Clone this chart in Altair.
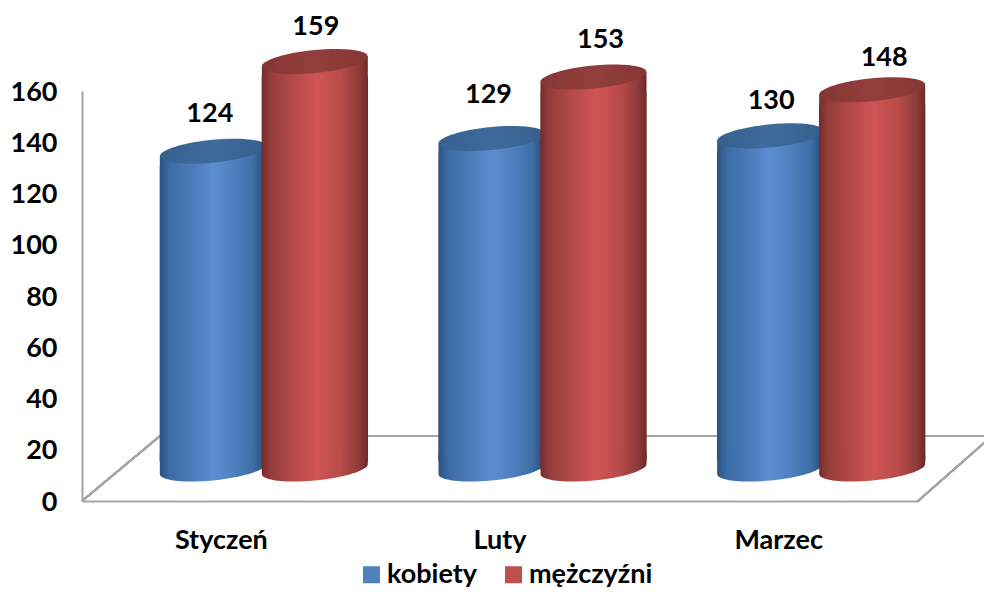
import altair as alt
import pandas as pd

MONTHS = ["Styczeń", "Luty", "Marzec"]
SERIES = ["kobiety", "mężczyźni"]
KOBIETY = [124, 129, 130]
MEZCZYZNI = [159, 153, 148]
Y_TICKS = [0, 20, 40, 60, 80, 100, 120, 140, 160]

FONT = "Lato"
FS = 27
GREY = "#a6a6a6"
LEGEND_COLORS = ["#4f81bd", "#c0504d"]

# projection of the 3D view, pixels
DEPTH_X, DEPTH_Y = 42.5, -32
HALF_STEP, CYL_W = 51, 106
TILT, MINOR = 5 / 53, 11.5 / 53
K = 0.5523


def pt(x, y):
    return f"{x:.4f},{y:.4f}"


R, L = (1, -TILT), (-1, TILT)
B, T = (0, MINOR), (0, -MINOR)
# quarter arcs of the sheared ellipse
lower = (f"C{pt(1, -TILT + K * MINOR)} {pt(K, MINOR - K * TILT)} {pt(*B)} "
         f"C{pt(-K, MINOR + K * TILT)} {pt(-1, TILT + K * MINOR)} {pt(*L)} ")
upper = (f"C{pt(-1, TILT - K * MINOR)} {pt(-K, -MINOR + K * TILT)} {pt(*T)} "
         f"C{pt(K, -MINOR - K * TILT)} {pt(1, -TILT - K * MINOR)} {pt(*R)} ")
ELLIPSE = f"M{pt(*R)} " + lower + upper + "Z"
BOTTOM_CAP = f"M{pt(*R)} " + lower + f"L-1,-0.3 L1,-0.3 Z"
TOP_BODY = f"M{pt(*R)} L1,0.3 L-1,0.3 L{pt(*L)} Z"


def grad(stops):
    return alt.Gradient(
        gradient="linear", x1=0, y1=0, x2=1, y2=0,
        stops=[alt.GradientStop(offset=o, color=c) for o, c in stops],
    )


BODY = {
    "kobiety": grad([(0, "#2a5282"), (0.1, "#3d6da5"), (0.3, "#4a7bb9"), (0.5, "#5b8dd2"),
                     (0.7, "#4f80bf"), (0.88, "#3f6ea6"), (1, "#264a75")]),
    "mężczyźni": grad([(0, "#752c2a"), (0.08, "#933c3a"), (0.3, "#b54a48"), (0.52, "#cf5554"),
                       (0.75, "#b84b49"), (0.92, "#8c3b39"), (1, "#6e2a28")]),
}
TOP = {
    "kobiety": grad([(0, "#35608f"), (0.5, "#3f6b9c"), (1, "#365f8c")]),
    "mężczyźni": grad([(0, "#853735"), (0.5, "#923e3c"), (1, "#853735")]),
}

# hand nudges of the data labels, pixels
LABEL_DX = {"kobiety": [-3, -3, 1], "mężczyźni": [1, 7, 12]}
LABEL_DY = {"kobiety": [-37, -43, -35], "mężczyźni": [-35, -37, -32]}

df = pd.DataFrame({
    "month": MONTHS * 2,
    "series": [SERIES[0]] * 3 + [SERIES[1]] * 3,
    "value": KOBIETY + MEZCZYZNI,
})

x = alt.X("month:N", sort=MONTHS,
          scale=alt.Scale(domain=MONTHS, paddingInner=0, paddingOuter=0),
          axis=alt.Axis(title=None, labelAngle=0, ticks=False, domainColor=GREY, domainWidth=2,
                        labelFont=FONT, labelFontWeight="bold", labelFontSize=FS, labelColor="#000000",
                        labelPadding=26, grid=False))
y = alt.Y("value:Q", stack=None,
          scale=alt.Scale(domain=[0, 160], nice=False),
          axis=alt.Axis(title=None, values=Y_TICKS, ticks=False, domainColor=GREY, domainWidth=2,
                        labelFont=FONT, labelFontWeight="bold", labelFontSize=FS, labelColor="#000000",
                        labelPadding=25, labelOffset=1, grid=False))
y0 = alt.Y(datum=0)


def guide(x1, y1, x2, y2):
    return alt.Chart(df).mark_rule(color=GREY, strokeWidth=2).encode(
        x=alt.value(x1), y=alt.value(y1), x2=alt.value(x2), y2=alt.value(y2))


layers = [
    alt.Chart(df).mark_bar(opacity=0).encode(x=x, y=y),
    guide(0, 410, 78, 345),
    guide(78, 345, 910, 345),
    guide(836, 410, 910, 345),
]

for i, s in enumerate(SERIES):
    base = alt.Chart(df).transform_filter(alt.datum.series == s)
    off = DEPTH_X + (-HALF_STEP if i == 0 else HALF_STEP)
    size = CYL_W ** 2
    layers += [
        base.mark_bar(width=CYL_W + 0.4, fill=BODY[s], xOffset=off, yOffset=DEPTH_Y + 15, y2Offset=DEPTH_Y - 8)
            .encode(x=x, y=y, y2=alt.Y2(datum=0)),
        base.mark_point(shape=BOTTOM_CAP, size=size, filled=True, fill=BODY[s], opacity=1, strokeWidth=0,
                        xOffset=off, yOffset=DEPTH_Y).encode(x=x, y=y0),
        base.mark_point(shape=TOP_BODY, size=size, filled=True, fill=BODY[s], opacity=1, strokeWidth=0,
                        xOffset=off, yOffset=DEPTH_Y).encode(x=x, y=y),
        base.mark_point(shape=ELLIPSE, size=size, filled=True, fill=TOP[s], opacity=1, strokeWidth=0,
                        xOffset=off, yOffset=DEPTH_Y).encode(x=x, y=y),
    ]

for i, s in enumerate(SERIES):
    off = DEPTH_X + (-HALF_STEP if i == 0 else HALF_STEP)
    for j, m in enumerate(MONTHS):
        layers.append(
            alt.Chart(df).transform_filter((alt.datum.series == s) & (alt.datum.month == m))
            .mark_text(font=FONT, fontWeight="bold", fontSize=FS, color="#000000",
                       dx=off + LABEL_DX[s][j], dy=DEPTH_Y + LABEL_DY[s][j])
            .encode(x=x, y=y, text="value:Q")
        )

layers.append(
    alt.Chart(df).mark_square(size=0).encode(
        x=x, y=y,
        color=alt.Color("series:N", sort=SERIES,
                        scale=alt.Scale(domain=SERIES, range=LEGEND_COLORS),
                        legend=alt.Legend(title=None, orient="none", legendX=276, legendY=470,
                                          direction="horizontal", columns=2, columnPadding=23,
                                          symbolType="square", symbolSize=289, symbolOpacity=1,
                                          symbolStrokeWidth=0, labelOffset=2,
                                          labelFont=FONT, labelFontWeight="bold", labelFontSize=FS,
                                          labelColor="#000000")),
    )
)

chart = alt.layer(*layers).properties(
    width=836, height=410,
    autosize=alt.AutoSizeParams(type="none"),
    padding={"left": 74, "top": 83, "right": 66, "bottom": 87},
    background="#ffffff",
).configure_view(stroke=None)

chart.save("out.html", embed_options={"renderer": "svg", "actions": False})
